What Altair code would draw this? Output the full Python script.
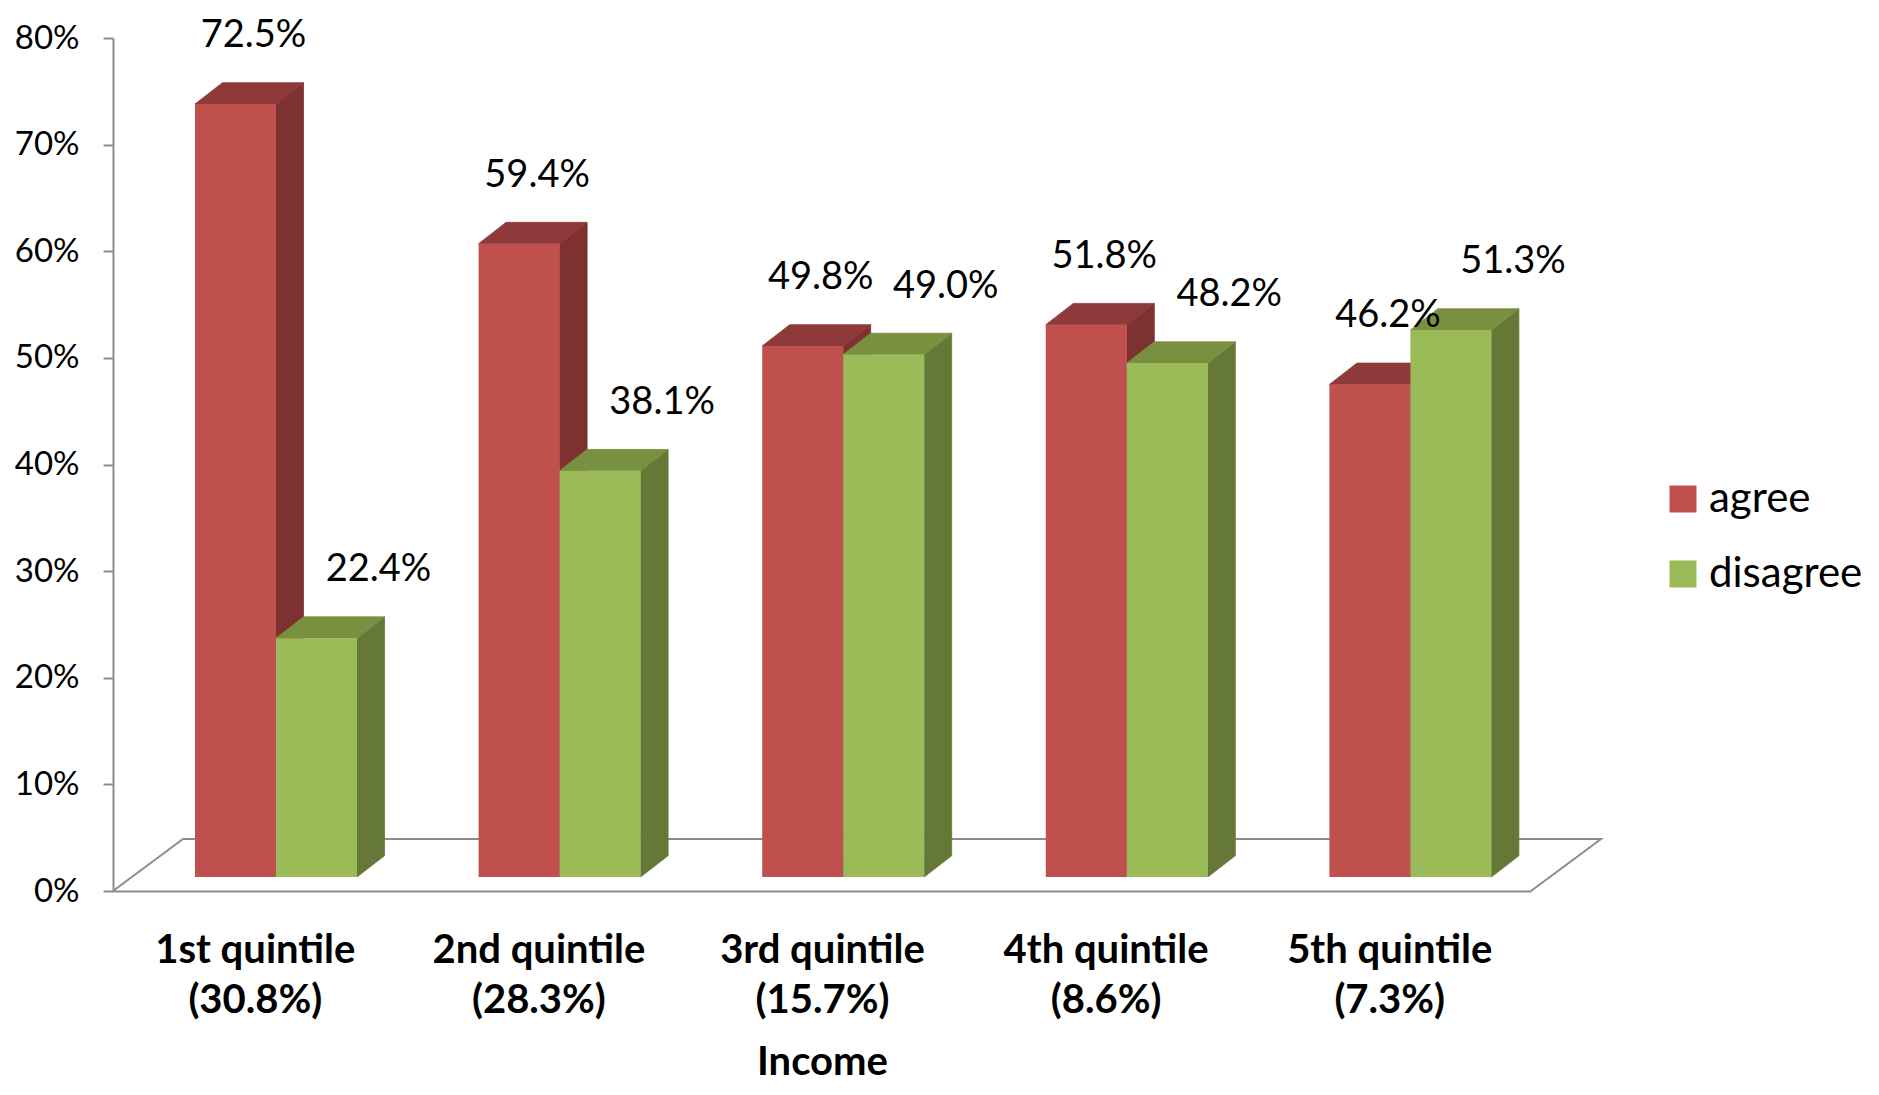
import json
import altair as alt
import pandas as pd

# ---------------- data ----------------
CATEGORIES = ["1st quintile", "2nd quintile", "3rd quintile", "4th quintile", "5th quintile"]
SHARES = ["(30.8%)", "(28.3%)", "(15.7%)", "(8.6%)", "(7.3%)"]
SERIES = ["agree", "disagree"]
AGREE = [72.5, 59.4, 49.8, 51.8, 46.2]
DISAGREE = [22.4, 38.1, 49.0, 48.2, 51.3]
Y_TICKS = [0, 10, 20, 30, 40, 50, 60, 70, 80]

# ---------------- styling / projection constants ----------------
W, H = 1418, 853
N = len(CATEGORIES)
YMAX = 80
PX_X = W / N          # px per category unit
PX_Y = H / YMAX       # px per percent

BASE = 14 / PX_Y            # bars sit a bit behind the front edge of the floor
BAR_START = 82 / PX_X       # first bar's left edge inside a category band
BAR_W = 81 / PX_X
DEPTH_X = 27.5 / PX_X
DEPTH_Y = 21.3 / PX_Y
FLOOR_X = 70 / PX_X
FLOOR_Y = 52 / PX_Y
LABEL_DX = {"agree": 18 / PX_X, "disagree": 62 / PX_X}

FRONT = {"agree": "#C0504D", "disagree": "#9BBB59"}
TOP = {"agree": "#8F3A3A", "disagree": "#78903F"}
SIDE = {"agree": "#7D3130", "disagree": "#667837"}
GRAY = "#8C8C8C"
FONT = "Lato"

values = {"agree": AGREE, "disagree": DISAGREE}

fronts, sides, tops, labels = [], [], [], []
for s_idx, s in enumerate(SERIES):
    for i, v in enumerate(values[s]):
        bid = f"{s}-{i}"
        x0 = i + BAR_START + s_idx * BAR_W
        x1 = x0 + BAR_W
        y0 = BASE
        y1 = BASE + v
        fronts.append(dict(series=s, x0=x0, x1=x1, y0=y0, y1=y1))
        sides.append(dict(id=bid, c=SIDE[s], sx=x1, lo=y0, hi=y1))
        sides.append(dict(id=bid, c=SIDE[s], sx=x1 + DEPTH_X, lo=y0 + DEPTH_Y, hi=y1 + DEPTH_Y))
        tops.append(dict(id=bid, c=TOP[s], ty=y1, xa=x0, xb=x1))
        tops.append(dict(id=bid, c=TOP[s], ty=y1 + DEPTH_Y, xa=x0 + DEPTH_X, xb=x1 + DEPTH_X))
        labels.append(dict(lx=(x0 + x1) / 2 + LABEL_DX[s], ly=y1, text=f"{v:.1f}%"))

floor_df = pd.DataFrame(dict(
    k=[0, 1, 2, 3],
    fx=[0, FLOOR_X, N + FLOOR_X, N],
    fy=[0, FLOOR_Y, FLOOR_Y, 0],
))

xs = alt.Scale(domain=[0, N], nice=False, zero=False)
ys = alt.Scale(domain=[0, YMAX], nice=False, zero=True)

label_lookup = json.dumps([[c, s] for c, s in zip(CATEGORIES, SHARES)])
xaxis = alt.Axis(
    title="Income", values=[i + 0.5 for i in range(N)],
    labelExpr=f"{label_lookup}[floor(datum.value)]",
    ticks=False, tickSize=0, grid=False,
    domainColor=GRAY, domainWidth=2,
    labelFont=FONT, labelFontSize=40, labelFontWeight="bold", labelColor="black",
    labelLineHeight=50, labelPadding=39, labelAngle=0, labelOverlap=False, labelFlush=False,
    labelLimit=1000,
    titleFont=FONT, titleFontSize=40, titleFontWeight="bold", titleColor="black", titlePadding=22,
)
yaxis = alt.Axis(
    title=None, values=Y_TICKS, labelExpr="datum.value + '%'",
    tickSize=10, tickColor=GRAY, tickWidth=2, grid=False,
    domainColor=GRAY, domainWidth=2,
    labelFont=FONT, labelFontSize=33, labelColor="black", labelPadding=24,
)


def X(f):
    return alt.X(f"{f}:Q", scale=xs, axis=xaxis)


def Y(f):
    return alt.Y(f"{f}:Q", scale=ys, axis=yaxis)


floor = alt.Chart(floor_df).mark_line(color=GRAY, strokeWidth=2).encode(
    x=X("fx"), y=Y("fy"), order="k:Q"
)

side_layer = alt.Chart(pd.DataFrame(sides)).mark_area(strokeWidth=0.8).encode(
    x=X("sx"), y=Y("hi"), y2="lo",
    detail="id:N",
    color=alt.Color("c:N", scale=None),
    stroke=alt.Stroke("c:N", scale=None),
)

top_layer = alt.Chart(pd.DataFrame(tops)).mark_area(orient="horizontal", strokeWidth=0.8).encode(
    y=Y("ty"), x=X("xa"), x2="xb",
    detail="id:N",
    color=alt.Color("c:N", scale=None),
    stroke=alt.Stroke("c:N", scale=None),
)

front_layer = alt.Chart(pd.DataFrame(fronts)).mark_rect().encode(
    x=X("x0"), x2="x1", y=Y("y0"), y2="y1",
    color=alt.Color(
        "series:N",
        scale=alt.Scale(domain=SERIES, range=[FRONT[s] for s in SERIES]),
        legend=alt.Legend(
            title=None, orient="none", legendX=1549, legendY=440,
            symbolType="square", symbolSize=729, symbolStrokeWidth=0, symbolOpacity=1,
            labelFont=FONT, labelFontSize=42, labelColor="black",
            labelOffset=5, rowPadding=33, padding=0, labelLimit=1000,
        ),
    ),
)

label_layer = alt.Chart(pd.DataFrame(labels)).mark_text(
    font=FONT, fontSize=38, color="black", baseline="alphabetic", align="center", dy=-57
).encode(x=X("lx"), y=Y("ly"), text="text:N")

chart = alt.layer(floor, side_layer, top_layer, front_layer, label_layer).resolve_scale(
    color="independent", stroke="independent"
).properties(
    width=W, height=H,
    autosize=alt.AutoSizeParams(type="none"),
    padding={"left": 105, "top": 30, "right": 340, "bottom": 196},
).configure(font=FONT).configure_view(stroke="transparent", strokeWidth=0)

chart.save("out.html", embed_options={"renderer": "svg", "actions": False})
